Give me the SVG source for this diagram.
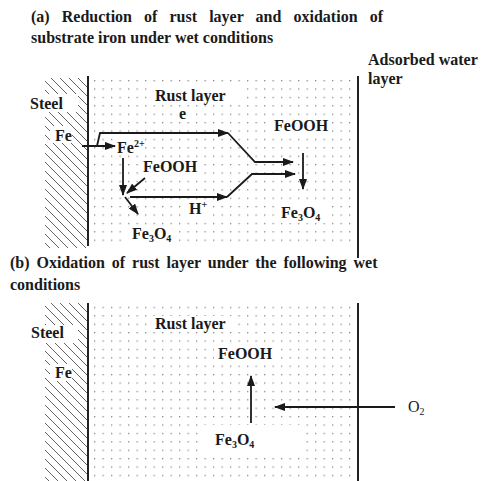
<svg xmlns="http://www.w3.org/2000/svg" width="482" height="481" viewBox="0 0 482 481">
<style>
text{font-family:"Liberation Serif","Times New Roman",serif;font-size:16px;font-weight:bold;fill:#1a1a1a}
.reg{font-weight:normal}
.sub{font-size:10px}
.wall{stroke:#222;stroke-width:2;fill:none}
.arr{stroke:#1a1a1a;stroke-width:1.8;fill:none;marker-end:url(#ah)}
.bg{fill:#fff}
</style>
<defs>
<pattern id="dots" patternUnits="userSpaceOnUse" x="94" y="80" width="8.5" height="8.4">
<rect x="0" y="0" width="1.3" height="1.3" fill="#8a8a8a"/>
</pattern>
<pattern id="hatch" patternUnits="userSpaceOnUse" x="0" y="0" width="9" height="9">
<path d="M0,0 L9,9 M-1,8 L1,10 M8,-1 L10,1" stroke="#3a3a3a" stroke-width="0.8"/>
</pattern>
<marker id="ah" markerUnits="userSpaceOnUse" markerWidth="11" markerHeight="8" refX="10" refY="4" orient="auto">
<path d="M0,0 L11,4 L0,8 Z" fill="#1a1a1a"/>
</marker>
</defs>
<rect width="482" height="481" fill="#fff"/>

<g id="title-a">
<text x="31" y="22" word-spacing="8.1">(a) Reduction of rust layer and oxidation of</text>
<text x="31" y="43">substrate iron under wet conditions</text>
</g>
<g id="label-water"><text x="368" y="65">Adsorbed water</text><text x="368" y="84">layer</text></g>

<g id="panel-a">
<rect x="45" y="78" width="42" height="170" fill="url(#hatch)"/>
<rect x="94" y="80" width="262" height="166" fill="url(#dots)"/>
<rect class="bg" x="28" y="94" width="50" height="18"/>
<rect class="bg" x="50" y="126" width="22" height="17"/>
<rect class="bg" x="152" y="88" width="90" height="16"/>
<rect class="bg" x="176" y="107" width="14" height="14"/>
<rect class="bg" x="270" y="118" width="62" height="16"/>
<rect class="bg" x="113" y="138" width="32" height="16"/>
<rect class="bg" x="140" y="158" width="62" height="16"/>
<rect class="bg" x="186" y="202" width="22" height="15"/>
<rect class="bg" x="278" y="205" width="48" height="18"/>
<rect class="bg" x="128" y="226" width="48" height="18"/>
<line class="wall" x1="88" y1="76" x2="88" y2="246"/>
<line class="wall" x1="358" y1="76" x2="358" y2="258"/>
</g>

<g id="steel-a"><text x="30" y="109">Steel</text></g>
<g id="fe-a"><text x="55" y="141">Fe</text></g>
<g id="rust-a"><text x="155" y="101">Rust layer</text></g>
<g id="e-a"><text x="179" y="119">e</text></g>
<g id="fe2-a"><text x="117" y="153">Fe<tspan class="sub" dy="-6">2+</tspan></text></g>
<g id="feooh-a1"><text x="143" y="172">FeOOH</text></g>
<g id="h-a"><text x="189" y="214">H<tspan class="sub" dy="-6">+</tspan></text></g>
<g id="feooh-a2"><text x="274" y="131">FeOOH</text></g>
<g id="fe3o4-a2"><text x="281" y="218">Fe<tspan class="sub" dy="3">3</tspan><tspan dy="-3">O</tspan><tspan class="sub" dy="3">4</tspan></text></g>
<g id="fe3o4-a1"><text x="132" y="239">Fe<tspan class="sub" dy="3">3</tspan><tspan dy="-3">O</tspan><tspan class="sub" dy="3">4</tspan></text></g>

<g id="title-b">
<text x="10" y="268" word-spacing="2.9">(b) Oxidation of rust layer under the following wet</text>
<text x="10" y="290">conditions</text>
</g>
<g id="panel-b">
<rect x="45" y="303" width="42" height="178" fill="url(#hatch)"/>
<rect x="94" y="305" width="262" height="176" fill="url(#dots)"/>
<rect class="bg" x="28" y="325" width="50" height="18"/>
<rect class="bg" x="50" y="364" width="22" height="17"/>
<rect class="bg" x="152" y="316" width="80" height="16"/>
<rect class="bg" x="214" y="346" width="62" height="17"/>
<rect class="bg" x="200" y="425" width="100" height="30"/>
<line class="wall" x1="88" y1="303" x2="88" y2="481"/>
<line class="wall" x1="358" y1="303" x2="358" y2="481"/>
</g>
<g id="steel-b"><text x="31" y="338">Steel</text></g>
<g id="fe-b"><text x="55" y="378">Fe</text></g>
<g id="rust-b"><text x="155" y="329">Rust layer</text></g>
<g id="feooh-b"><text x="218" y="359">FeOOH</text></g>
<g id="fe3o4-b"><text x="215" y="445">Fe<tspan class="sub" dy="3">3</tspan><tspan dy="-3">O</tspan><tspan class="sub" dy="3">4</tspan></text></g>
<g id="o2-b"><text class="reg" x="408" y="412">O<tspan class="sub" dy="3">2</tspan></text></g>

<g id="connectors">
<path class="arr" d="M82,146 L115,146"/>
<path class="arr" d="M97,146 L100,133 L228,133"/>
<path class="arr" d="M228,133 L255,162 L293,162"/>
<path class="arr" d="M130,197 L227,197"/>
<path class="arr" d="M227,197 L252,174 L295,174"/>
<path class="arr" d="M303,153 L303,189"/>
<path class="arr" d="M123,158 L123,195"/>
<path class="arr" d="M145,178 L127,193"/>
<path class="arr" d="M125,197 L138,214"/>
<path class="arr" d="M251,423 L251,376"/>
<path class="arr" d="M395,407 L275,407"/>
</g>
</svg>
